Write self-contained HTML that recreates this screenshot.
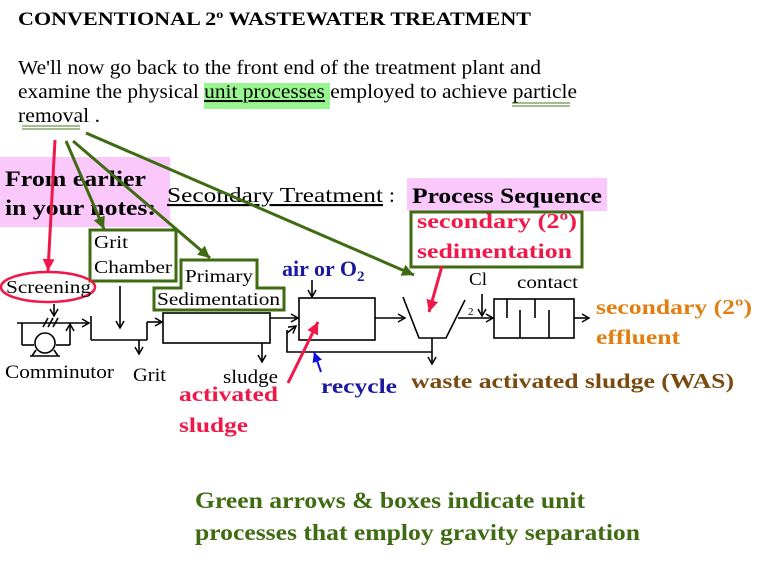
<!DOCTYPE html>
<html><head><meta charset="utf-8"><style>
body{margin:0;background:#fff;width:768px;height:575px;overflow:hidden}
svg{display:block}
text{font-family:"Liberation Serif",serif}
</style></head><body>
<svg width="768" height="575" viewBox="0 0 768 575" xmlns="http://www.w3.org/2000/svg">
<defs>
<marker id="ab" markerWidth="10" markerHeight="10" refX="8" refY="5" orient="auto" markerUnits="userSpaceOnUse"><path d="M1,1 L8,5 L1,9" fill="none" stroke="#000" stroke-width="1.5"/></marker>
<marker id="ag" markerWidth="14" markerHeight="14" refX="12" refY="7" orient="auto" markerUnits="userSpaceOnUse"><path d="M0,1 L12,7 L0,13 Z" fill="#3f6b12"/></marker>
<marker id="ar" markerWidth="14" markerHeight="14" refX="12" refY="7" orient="auto" markerUnits="userSpaceOnUse"><path d="M0,1 L12,7 L0,13 Z" fill="#f01848"/></marker>
<marker id="abl" markerWidth="12" markerHeight="12" refX="10" refY="6" orient="auto" markerUnits="userSpaceOnUse"><path d="M0,1 L10,6 L0,11 Z" fill="#1010e0"/></marker>
</defs>
<text x="18" y="25" font-size="19" font-weight="bold" textLength="513" lengthAdjust="spacingAndGlyphs">CONVENTIONAL  2º WASTEWATER TREATMENT</text>
<rect x="204" y="83" width="126" height="26" fill="#99f58f"/>
<text font-size="20.5" x="18" y="74" textLength="523" lengthAdjust="spacingAndGlyphs">We'll now go back to the front end of the treatment plant and</text>
<text font-size="20.5" x="18" y="98" textLength="559" lengthAdjust="spacingAndGlyphs">examine the physical <tspan text-decoration="underline">unit processes</tspan> employed to achieve particle</text>
<text font-size="20.5" x="18" y="122" textLength="82" lengthAdjust="spacingAndGlyphs">removal .</text>
<g stroke="#4a7a20" stroke-width="1"><line x1="512" y1="103" x2="570" y2="103"/><line x1="512" y1="106" x2="570" y2="106"/><line x1="22" y1="126" x2="80" y2="126"/><line x1="22" y1="129" x2="80" y2="129"/></g>
<rect x="0" y="157" width="170" height="70" fill="#fbc8fb"/>
<text font-size="22.5" font-weight="bold" x="5" y="186" textLength="141" lengthAdjust="spacingAndGlyphs">From earlier</text>
<text font-size="22.5" font-weight="bold" x="5" y="215" textLength="151" lengthAdjust="spacingAndGlyphs">in your notes:</text>
<text x="167" y="202" font-size="21.5" text-decoration="underline" textLength="216" lengthAdjust="spacingAndGlyphs">Secondary Treatment</text><text x="389" y="202" font-size="21">:</text>
<rect x="407" y="178" width="200" height="33" fill="#fbc8fb"/>
<text x="412" y="203" font-size="22.5" font-weight="bold" textLength="190" lengthAdjust="spacingAndGlyphs">Process Sequence</text>
<rect x="411" y="212" width="171" height="55" fill="none" stroke="#3f6b12" stroke-width="3"/>
<text font-size="21.5" font-weight="bold" fill="#f01848" x="417" y="228" textLength="160" lengthAdjust="spacingAndGlyphs">secondary (2º)</text>
<text font-size="21.5" font-weight="bold" fill="#f01848" x="417" y="258" textLength="155" lengthAdjust="spacingAndGlyphs">sedimentation</text>
<rect x="90" y="230" width="86" height="51" fill="none" stroke="#3f6b12" stroke-width="3"/>
<text font-size="18" x="94" y="248" textLength="34" lengthAdjust="spacingAndGlyphs">Grit</text>
<text font-size="18" x="94" y="273" textLength="78" lengthAdjust="spacingAndGlyphs">Chamber</text>
<path d="M181,260 L257,260 L257,288 L284,288 L284,310 L154,310 L154,288 L181,288 Z" fill="none" stroke="#3f6b12" stroke-width="3"/>
<text font-size="18" x="185" y="282" textLength="68" lengthAdjust="spacingAndGlyphs">Primary</text>
<text font-size="18" x="157" y="305" textLength="123" lengthAdjust="spacingAndGlyphs">Sedimentation</text>
<ellipse cx="48" cy="287" rx="47" ry="15" fill="none" stroke="#f01848" stroke-width="2.5"/>
<text x="6" y="293" font-size="18" textLength="85" lengthAdjust="spacingAndGlyphs">Screening</text>
<g stroke="#000" stroke-width="1.6" fill="none">
<line x1="17" y1="323" x2="89" y2="323" marker-end="url(#ab)"/>
<line x1="22" y1="323" x2="22" y2="345"/><line x1="22" y1="345" x2="34" y2="345"/>
<circle cx="45" cy="343" r="10"/><path d="M32,356 L36,350 M58,356 L54,350 M30,356 L60,356"/>
<line x1="56" y1="345" x2="70" y2="345"/><line x1="70" y1="345" x2="70" y2="324" marker-end="url(#ab)"/>
<path d="M43,327 L48,318 M48,327 L53,318 M53,327 L58,318"/>
<line x1="54" y1="304" x2="54" y2="316" marker-end="url(#ab)"/>
<line x1="91" y1="316" x2="91" y2="340"/><line x1="91" y1="340" x2="147" y2="340"/>
<line x1="147" y1="340" x2="147" y2="322"/><line x1="147" y1="322" x2="162" y2="322" marker-end="url(#ab)"/>
<line x1="120" y1="286" x2="120" y2="328" marker-end="url(#ab)"/>
<line x1="139" y1="340" x2="139" y2="354" marker-end="url(#ab)"/>
<rect x="163" y="313" width="107" height="30"/>
<line x1="262" y1="343" x2="262" y2="362" marker-end="url(#ab)"/>
<line x1="270" y1="318" x2="298" y2="318" marker-end="url(#ab)"/>
<rect x="299" y="298" width="76" height="42"/>
<line x1="312" y1="280" x2="312" y2="297" marker-end="url(#ab)"/>
<line x1="375" y1="318" x2="405" y2="318" marker-end="url(#ab)"/>
<path d="M403,297 L419,338 L446,338 L465,300"/>
<line x1="432" y1="338" x2="432" y2="364" marker-end="url(#ab)"/>
<path d="M432,352 L287,352 L287,330" /><line x1="287" y1="333" x2="296" y2="326" marker-end="url(#ab)"/>
<line x1="458" y1="318" x2="493" y2="318" marker-end="url(#ab)"/>
<line x1="482" y1="294" x2="482" y2="316" marker-end="url(#ab)"/>
<rect x="494" y="299" width="80" height="39"/>
<path d="M507,299 V318 M520,338 V310 M535,299 V318 M549,338 V310"/>
<line x1="574" y1="318" x2="589" y2="318" marker-end="url(#ab)"/>
</g>
<text x="469" y="285" font-size="18" textLength="18" lengthAdjust="spacingAndGlyphs">Cl</text><text x="468" y="315" font-size="11">2</text>
<text x="517" y="288" font-size="18" textLength="61" lengthAdjust="spacingAndGlyphs">contact</text>
<text x="282" y="276" font-size="22" font-weight="bold" fill="#1a1aa0">air or O<tspan font-size="15" dy="5">2</tspan></text>
<text font-size="21.5" font-weight="bold" fill="#e07f10" x="596" y="314" textLength="156" lengthAdjust="spacingAndGlyphs">secondary (2º)</text>
<text font-size="21.5" font-weight="bold" fill="#e07f10" x="596" y="344" textLength="84" lengthAdjust="spacingAndGlyphs">effluent</text>
<text x="5" y="378" font-size="18.5" textLength="109" lengthAdjust="spacingAndGlyphs">Comminutor</text>
<text x="133" y="381" font-size="18.5" textLength="33" lengthAdjust="spacingAndGlyphs">Grit</text>
<text x="223" y="383" font-size="18.5" textLength="55" lengthAdjust="spacingAndGlyphs">sludge</text>
<text font-size="21.5" font-weight="bold" fill="#f01848" x="179" y="401" textLength="99" lengthAdjust="spacingAndGlyphs">activated</text>
<text font-size="21.5" font-weight="bold" fill="#f01848" x="179" y="432" textLength="69" lengthAdjust="spacingAndGlyphs">sludge</text>
<text x="321" y="393" font-size="21.5" font-weight="bold" fill="#1a1aa0" textLength="76" lengthAdjust="spacingAndGlyphs">recycle</text>
<text x="411" y="388" font-size="21.5" font-weight="bold" fill="#7a4a10" textLength="323" lengthAdjust="spacingAndGlyphs">waste activated sludge (WAS)</text>
<text font-size="23.5" font-weight="bold" fill="#3f6b12" x="195" y="508" textLength="390" lengthAdjust="spacingAndGlyphs">Green arrows &amp; boxes indicate unit</text>
<text font-size="23.5" font-weight="bold" fill="#3f6b12" x="195" y="540" textLength="445" lengthAdjust="spacingAndGlyphs">processes that employ gravity separation</text>
<g stroke-width="3">
<line x1="55" y1="140" x2="48" y2="271" stroke="#f01848" marker-end="url(#ar)"/>
<line x1="66" y1="141" x2="104" y2="229" stroke="#3f6b12" marker-end="url(#ag)"/>
<line x1="73" y1="141" x2="210" y2="258" stroke="#3f6b12" marker-end="url(#ag)"/>
<line x1="86" y1="133" x2="414" y2="275" stroke="#3f6b12" marker-end="url(#ag)"/>
<line x1="442" y1="266" x2="429" y2="312" stroke="#f01848" marker-end="url(#ar)"/>
<line x1="288" y1="383" x2="318" y2="322" stroke="#f01848" marker-end="url(#ar)"/>
<line x1="321" y1="372" x2="314" y2="352" stroke="#1010e0" stroke-width="2" marker-end="url(#abl)"/>
</g>
</svg>
</body></html>
